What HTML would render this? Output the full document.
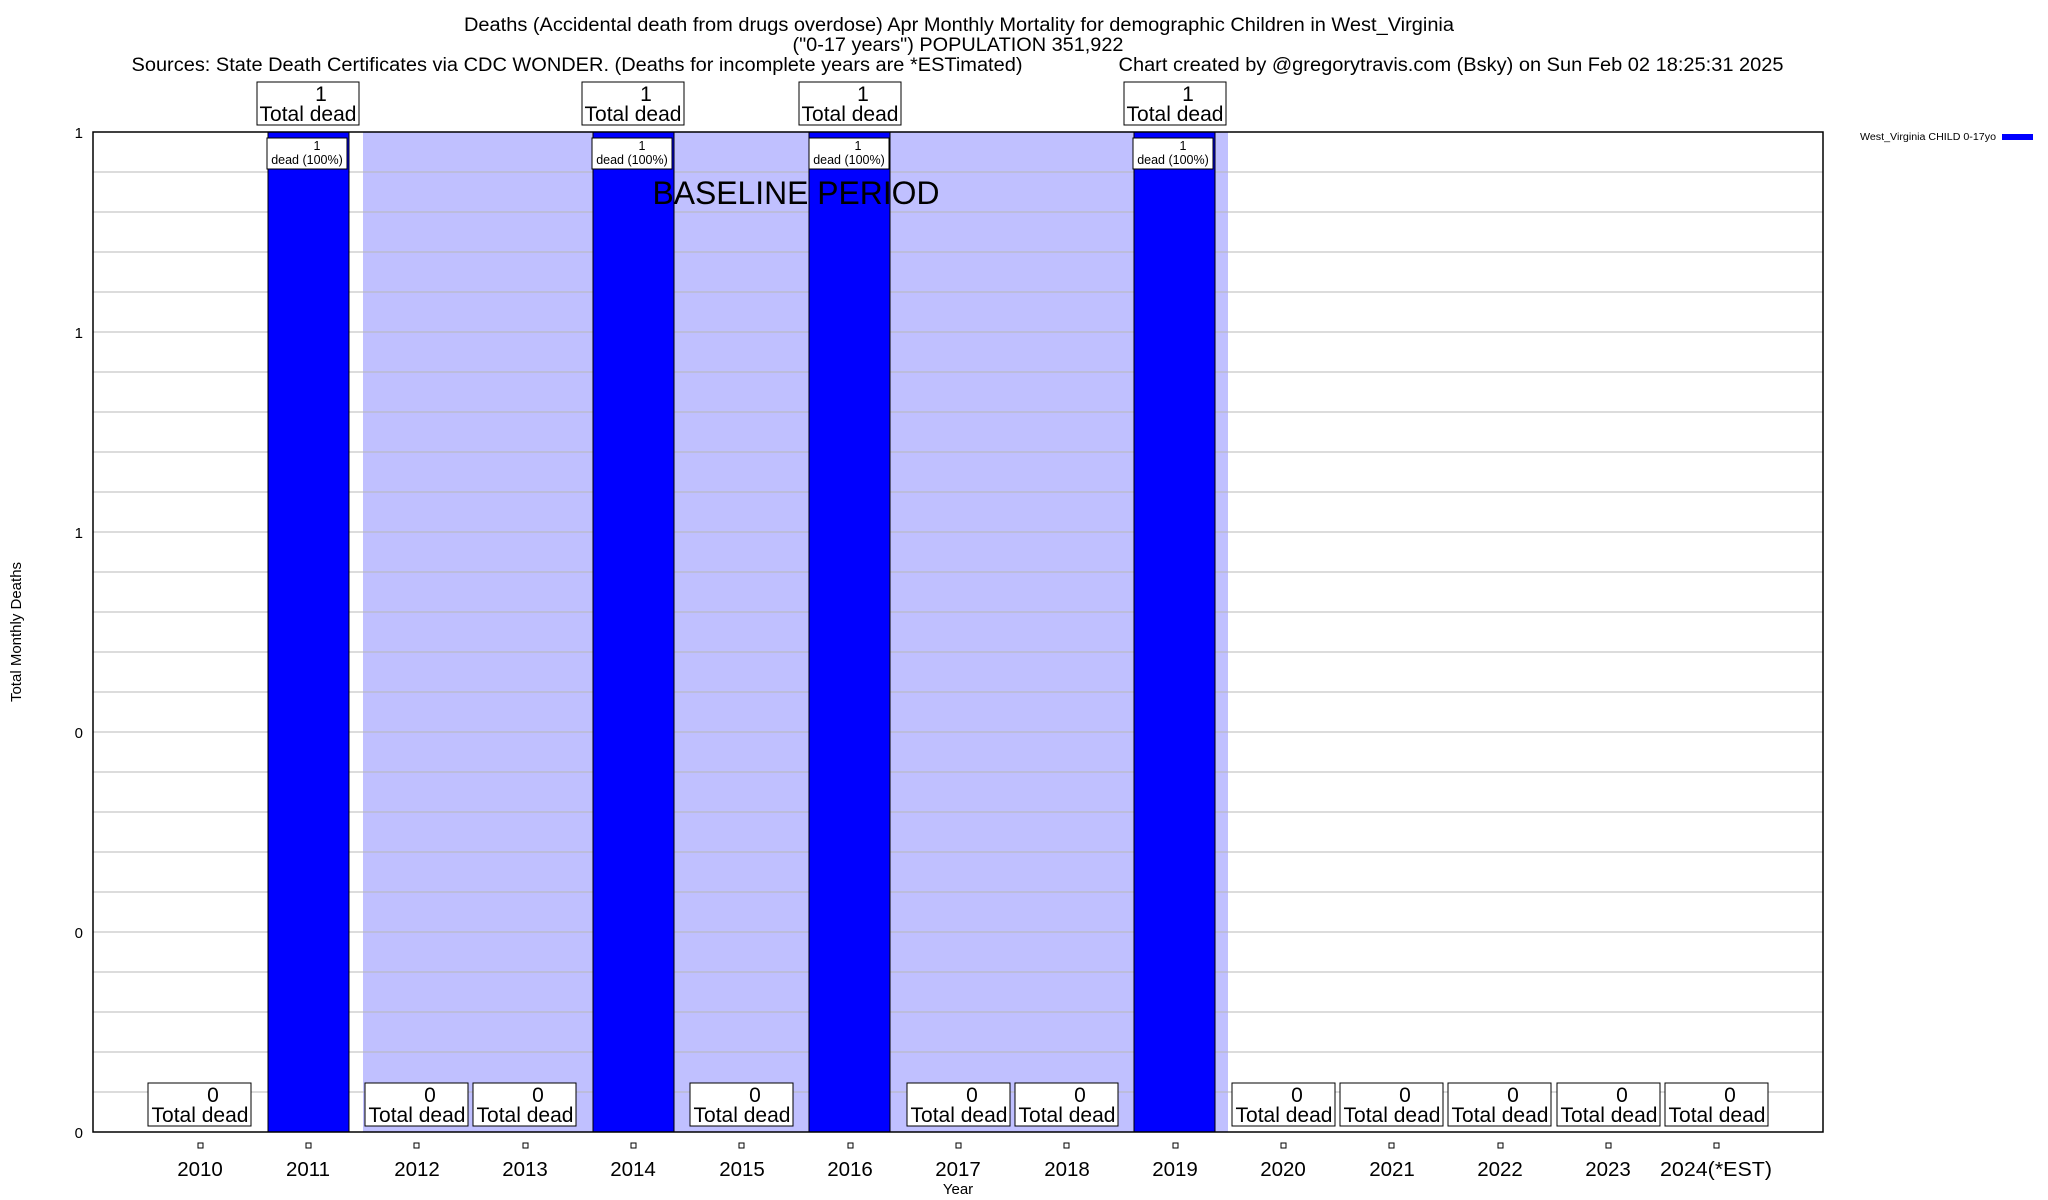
<!DOCTYPE html>
<html><head><meta charset="utf-8"><style>
html,body{margin:0;padding:0;background:#fff;}
svg{display:block;font-family:"Liberation Sans",sans-serif;}
</style></head><body>
<svg width="2048" height="1200" viewBox="0 0 2048 1200" xmlns="http://www.w3.org/2000/svg">
<rect width="2048" height="1200" fill="#fff"/>
<g font-size="19" text-anchor="middle" fill="#000">
<text x="959" y="31" textLength="990" lengthAdjust="spacingAndGlyphs">Deaths (Accidental death from drugs overdose) Apr Monthly Mortality for demographic Children in West_Virginia</text>
<text x="958" y="51" textLength="331" lengthAdjust="spacingAndGlyphs">("0-17 years") POPULATION 351,922</text>
<text x="577" y="71" textLength="891" lengthAdjust="spacingAndGlyphs">Sources: State Death Certificates via CDC WONDER. (Deaths for incomplete years are *ESTimated)</text>
<text x="1451" y="71" textLength="665" lengthAdjust="spacingAndGlyphs">Chart created by @gregorytravis.com (Bsky) on Sun Feb 02 18:25:31 2025</text>
</g>
<rect x="363" y="132" width="865" height="1000" fill="#c0c0ff"/>
<g stroke="#b8b8b8" stroke-width="1">
<line x1="93" x2="1823" y1="172" y2="172"/><line x1="93" x2="1823" y1="212" y2="212"/><line x1="93" x2="1823" y1="252" y2="252"/><line x1="93" x2="1823" y1="292" y2="292"/><line x1="93" x2="1823" y1="332" y2="332"/><line x1="93" x2="1823" y1="372" y2="372"/><line x1="93" x2="1823" y1="412" y2="412"/><line x1="93" x2="1823" y1="452" y2="452"/><line x1="93" x2="1823" y1="492" y2="492"/><line x1="93" x2="1823" y1="532" y2="532"/><line x1="93" x2="1823" y1="572" y2="572"/><line x1="93" x2="1823" y1="612" y2="612"/><line x1="93" x2="1823" y1="652" y2="652"/><line x1="93" x2="1823" y1="692" y2="692"/><line x1="93" x2="1823" y1="732" y2="732"/><line x1="93" x2="1823" y1="772" y2="772"/><line x1="93" x2="1823" y1="812" y2="812"/><line x1="93" x2="1823" y1="852" y2="852"/><line x1="93" x2="1823" y1="892" y2="892"/><line x1="93" x2="1823" y1="932" y2="932"/><line x1="93" x2="1823" y1="972" y2="972"/><line x1="93" x2="1823" y1="1012" y2="1012"/><line x1="93" x2="1823" y1="1052" y2="1052"/><line x1="93" x2="1823" y1="1092" y2="1092"/>
</g>
<g fill="#0000ff" stroke="#000" stroke-width="1">
<rect x="268" y="132" width="81" height="1000"/>
<rect x="593" y="132" width="81" height="1000"/>
<rect x="809" y="132" width="81" height="1000"/>
<rect x="1134" y="132" width="81" height="1000"/>
</g>
<text x="796" y="204" font-size="32" text-anchor="middle" textLength="287" lengthAdjust="spacingAndGlyphs">BASELINE PERIOD</text>
<rect x="93" y="132" width="1730" height="1000" fill="none" stroke="#000" stroke-width="1.5"/>
<g font-size="15" text-anchor="end">
<text x="83" y="138">1</text><text x="83" y="338">1</text><text x="83" y="538">1</text>
<text x="83" y="738">0</text><text x="83" y="938">0</text><text x="83" y="1138">0</text>
</g>
<text transform="translate(21,632) rotate(-90)" font-size="15" text-anchor="middle">Total Monthly Deaths</text>
<g font-size="21" text-anchor="middle">
<g><rect x="257" y="82" width="102" height="43" fill="#fff" stroke="#000"/><text x="321" y="101">1</text><text x="308" y="121">Total dead</text></g>
<g><rect x="582" y="82" width="102" height="43" fill="#fff" stroke="#000"/><text x="646" y="101">1</text><text x="633" y="121">Total dead</text></g>
<g><rect x="799" y="82" width="102" height="43" fill="#fff" stroke="#000"/><text x="863" y="101">1</text><text x="850" y="121">Total dead</text></g>
<g><rect x="1124" y="82" width="102" height="43" fill="#fff" stroke="#000"/><text x="1188" y="101">1</text><text x="1175" y="121">Total dead</text></g>
</g>
<g font-size="12.5" text-anchor="middle">
<g><rect x="267" y="138" width="80" height="31" fill="#fff" stroke="#000"/><text x="317" y="150">1</text><text x="307" y="164">dead (100%)</text></g>
<g><rect x="592" y="138" width="80" height="31" fill="#fff" stroke="#000"/><text x="642" y="150">1</text><text x="632" y="164">dead (100%)</text></g>
<g><rect x="809" y="138" width="80" height="31" fill="#fff" stroke="#000"/><text x="858" y="150">1</text><text x="849" y="164">dead (100%)</text></g>
<g><rect x="1133" y="138" width="80" height="31" fill="#fff" stroke="#000"/><text x="1183" y="150">1</text><text x="1173" y="164">dead (100%)</text></g>
</g>
<g font-size="21" text-anchor="middle">
<g><rect x="148" y="1083" width="103" height="43" fill="#fff" stroke="#000"/><text x="213" y="1102">0</text><text x="200" y="1122">Total dead</text></g>
<g><rect x="365" y="1083" width="103" height="43" fill="#fff" stroke="#000"/><text x="430" y="1102">0</text><text x="417" y="1122">Total dead</text></g>
<g><rect x="473" y="1083" width="103" height="43" fill="#fff" stroke="#000"/><text x="538" y="1102">0</text><text x="525" y="1122">Total dead</text></g>
<g><rect x="690" y="1083" width="103" height="43" fill="#fff" stroke="#000"/><text x="755" y="1102">0</text><text x="742" y="1122">Total dead</text></g>
<g><rect x="907" y="1083" width="103" height="43" fill="#fff" stroke="#000"/><text x="972" y="1102">0</text><text x="959" y="1122">Total dead</text></g>
<g><rect x="1015" y="1083" width="103" height="43" fill="#fff" stroke="#000"/><text x="1080" y="1102">0</text><text x="1067" y="1122">Total dead</text></g>
<g><rect x="1232" y="1083" width="103" height="43" fill="#fff" stroke="#000"/><text x="1297" y="1102">0</text><text x="1284" y="1122">Total dead</text></g>
<g><rect x="1340" y="1083" width="103" height="43" fill="#fff" stroke="#000"/><text x="1405" y="1102">0</text><text x="1392" y="1122">Total dead</text></g>
<g><rect x="1448" y="1083" width="103" height="43" fill="#fff" stroke="#000"/><text x="1513" y="1102">0</text><text x="1500" y="1122">Total dead</text></g>
<g><rect x="1557" y="1083" width="103" height="43" fill="#fff" stroke="#000"/><text x="1622" y="1102">0</text><text x="1609" y="1122">Total dead</text></g>
<g><rect x="1665" y="1083" width="103" height="43" fill="#fff" stroke="#000"/><text x="1730" y="1102">0</text><text x="1717" y="1122">Total dead</text></g>
</g>
<g stroke="#000" fill="none">
<rect x="198" y="1143" width="5" height="5"/><rect x="306" y="1143" width="5" height="5"/><rect x="414" y="1143" width="5" height="5"/><rect x="523" y="1143" width="5" height="5"/><rect x="631" y="1143" width="5" height="5"/><rect x="739" y="1143" width="5" height="5"/><rect x="848" y="1143" width="5" height="5"/><rect x="956" y="1143" width="5" height="5"/><rect x="1064" y="1143" width="5" height="5"/><rect x="1173" y="1143" width="5" height="5"/><rect x="1281" y="1143" width="5" height="5"/><rect x="1389" y="1143" width="5" height="5"/><rect x="1498" y="1143" width="5" height="5"/><rect x="1606" y="1143" width="5" height="5"/><rect x="1714" y="1143" width="5" height="5"/>
</g>
<g font-size="20.5" text-anchor="middle">
<text x="200" y="1176">2010</text><text x="308" y="1176">2011</text><text x="417" y="1176">2012</text><text x="525" y="1176">2013</text><text x="633" y="1176">2014</text><text x="742" y="1176">2015</text><text x="850" y="1176">2016</text><text x="958" y="1176">2017</text><text x="1067" y="1176">2018</text><text x="1175" y="1176">2019</text><text x="1283" y="1176">2020</text><text x="1392" y="1176">2021</text><text x="1500" y="1176">2022</text><text x="1608" y="1176">2023</text><text x="1716" y="1176" textLength="112" lengthAdjust="spacingAndGlyphs">2024(*EST)</text>
</g>
<text x="958" y="1194" font-size="15" text-anchor="middle">Year</text>
<text x="1860" y="140" font-size="10" textLength="136" lengthAdjust="spacingAndGlyphs">West_Virginia CHILD 0-17yo</text>
<rect x="2002" y="134" width="31" height="6" fill="#0000ff"/>
</svg>
</body></html>
